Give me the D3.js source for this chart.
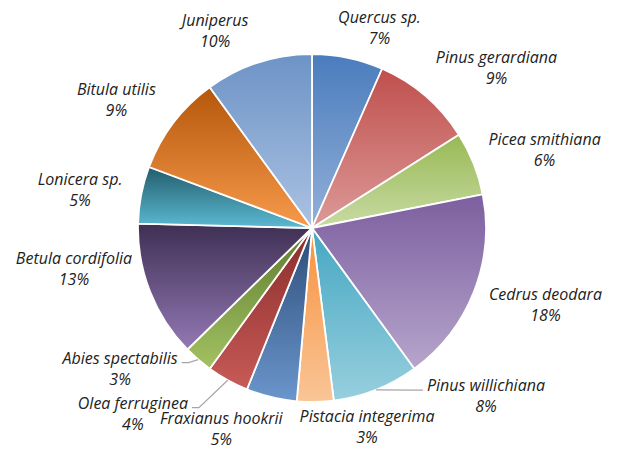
<!DOCTYPE html>
<html>
<head>
<meta charset="utf-8">
<script src="https://cdn.jsdelivr.net/npm/d3@7"></script>
<style>
	body { margin: 0; background: #fff; }
	svg text { font-family: "Open Sans", sans-serif; font-style: italic; font-size: 16px; fill: #222; }
</style>
</head>
<body>
<svg id="chart" width="619" height="454"></svg>
<script>
// Species and their share (%) of the stand, clockwise from 12 o'clock.
const species = [
	'Quercus sp.', 'Pinus gerardiana', 'Picea smithiana', 'Cedrus deodara',
	'Pinus willichiana', 'Pistacia integerima', 'Fraxianus hookrii', 'Olea ferruginea',
	'Abies spectabilis', 'Betula cordifolia', 'Lonicera sp.', 'Bitula utilis', 'Juniperus'
];
const shares = [6.6, 9.4, 5.9, 18.1, 8.0, 3.4, 4.7, 3.9, 2.7, 12.7, 5.3, 9.3, 10.0];

// Gradient colours (top -> bottom) per slice, Office 2007 style.
const topColors = ['#4a7cbc','#bf4f4c','#98b954','#7c5f9f','#45a7c2','#f6913e','#2c4c78','#8a2d2b','#5e7a2e','#3e2f53','#235d6c','#b5570a','#6d93c6'];
const bottomColors = ['#93b0da','#dc9a98','#c8dba4','#b6a5cc','#97cfde','#fac596','#6b96cc','#c75a57','#a3c262','#9379b4','#5bbad2','#f79a4c','#abc2e2'];

// label layout: nudges in px relative to the default outside-end placement
const labelNudge = [[-13,6],[0,0],[0,0],[0,0],[45,-28],[-16,-12],[15,-4],[-32,1],[-10,-19],[-3,-36],[-3,2],[-5,0],[-5,4]];
const withLeader = [false,false,false,false,true,false,false,true,true,false,false,false,false];

const cx = 312, cy = 228, radius = 174;
const labelR = 190, lineGap = 21;

const data = species.map((name, i) => ({name, share: shares[i], i}));

const svg = d3.select('#chart');
const defs = svg.append('defs');

data.forEach(d => {
	const grad = defs.append('linearGradient')
		.attr('id', 'grad-' + d.i)
		.attr('x1', 0).attr('y1', 0).attr('x2', 0).attr('y2', 1);
	grad.append('stop').attr('offset', '0%').attr('stop-color', topColors[d.i]);
	grad.append('stop').attr('offset', '100%').attr('stop-color', bottomColors[d.i]);
});

const pie = d3.pie().sort(null).value(d => d.share);
const arc = d3.arc().innerRadius(0).outerRadius(radius);
const arcs = pie(data);

const g = svg.append('g').attr('transform', `translate(${cx},${cy})`);

g.selectAll('path.slice')
	.data(arcs)
	.enter().append('path')
		.attr('class', 'slice')
		.attr('d', arc)
		.attr('fill', d => `url(#grad-${d.data.i})`)
		.attr('stroke', '#fff')
		.attr('stroke-width', 1.8)
		.attr('stroke-linejoin', 'round');

// labels
const labels = g.selectAll('g.label')
	.data(arcs)
	.enter().append('g')
		.attr('class', 'label');

labels.append('text')
	.attr('class', 'name')
	.attr('text-anchor', 'middle')
	.attr('y', -lineGap / 2)
	.attr('dy', '0.35em')
	.text(d => d.data.name);

labels.append('text')
	.attr('class', 'pct')
	.attr('text-anchor', 'middle')
	.attr('y', lineGap / 2)
	.attr('dy', '0.35em')
	.text(d => Math.round(d.data.share) + '%');

labels.each(function(d) {
	const el = d3.select(this);
	const w = el.select('text.name').node().getComputedTextLength();
	const h = 2 * lineGap;
	const mid = (d.startAngle + d.endAngle) / 2;
	const s = Math.sin(mid), c = Math.cos(mid);
	const nudge = labelNudge[d.data.i];
	const x = labelR * s + Math.sign(s) * w / 2 + nudge[0];
	const y = -labelR * c - c * h / 2 + nudge[1];
	el.attr('transform', `translate(${x},${y})`);
	d.lx = x; d.ly = y; d.lw = w;
});

// leader lines for the labels that were moved away from their slice
const leaders = arcs.filter(d => withLeader[d.data.i]);
g.selectAll('polyline.leader')
	.data(leaders)
	.enter().append('polyline')
		.attr('class', 'leader')
		.attr('fill', 'none')
		.attr('stroke', '#a6a6a6')
		.attr('stroke-width', 1.2)
		.attr('points', d => {
			const mid = (d.startAngle + d.endAngle) / 2;
			const sx = radius * Math.sin(mid), sy = -radius * Math.cos(mid);
			const dir = d.lx > sx ? 1 : -1;
			const ex = d.lx - dir * (d.lw / 2 + 4);
			const ey = d.ly - 6;
			return [[sx, sy], [ex - dir * 7, ey], [ex, ey]].map(p => p.join(',')).join(' ');
		});
</script>
</body>
</html>
